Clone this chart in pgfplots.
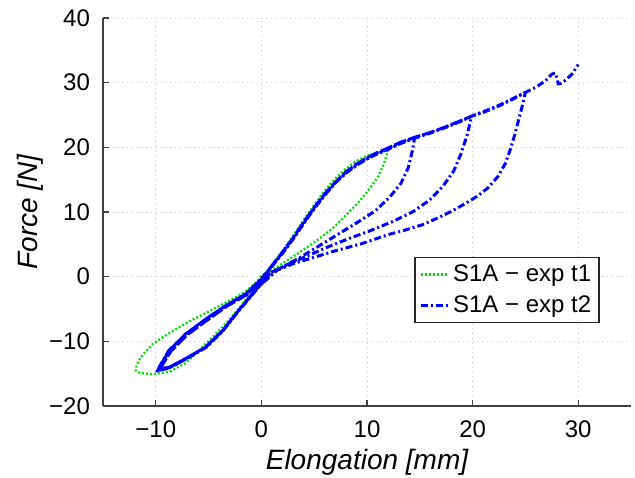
\documentclass[border=0pt]{standalone}
\usepackage{fontspec}
\setmainfont{Liberation Sans}
\usepackage{pgfplots}
\pgfplotsset{compat=1.18}
\definecolor{mgreen}{HTML}{00DD00}
\definecolor{mblue}{HTML}{0000FF}

\begin{document}
\begin{tikzpicture}
\begin{axis}[
    scale only axis, width=264pt, height=194pt,
    xmin=-15, xmax=35, ymin=-20, ymax=40,
    xtick={-10,0,10,20,30}, xticklabels={−10,0,10,20,30},
    ytick={-20,-10,0,10,20,30,40}, yticklabels={−20,−10,0,10,20,30,40},
    axis x line*=bottom, axis y line*=left,
    axis line style={black!75, line width=0.6pt},
    tick style={black!75, line width=0.6pt}, major tick length=3pt,
    grid=major, grid style={dotted, black!22, line width=0.4pt},
    tick label style={font=\fontsize{12}{14}\selectfont},
    yticklabel style={xshift=-3pt},
    xticklabel style={yshift=-4pt},
    xlabel={Elongation [mm]}, ylabel={Force [N]},
    label style={font=\fontsize{14}{16}\selectfont\itshape},
    xlabel style={at={(axis description cs:0.5,-0.144)}, anchor=center},
    ylabel style={at={(axis description cs:-0.138,0.5)}, anchor=center},
    legend style={at={(axis description cs:0.941,0.384)}, anchor=north east,
        draw=black!85, line width=0.7pt, fill=white,
        font=\fontsize{12}{14}\selectfont, inner xsep=2pt, inner ysep=1.5pt,
        row sep=1.5pt, cells={anchor=west}},
    legend image code/.code={\draw[#1] (0pt,0pt) -- (13.5pt,0pt);},
]
% S1A - exp t1
\addplot[mgreen, line width=1.1pt, dash pattern=on 1pt off 1pt, line join=round] coordinates {
 (0,-0.2) (1,1.8) (2,4) (3,6.3) (4,8.8) (5,11.1) (6,13.3) (7,15.2) (8,16.7) (9,17.9) (10,18.7) (11,19.2) (12,19.5)
 (11.6,17.5) (11.1,15.6) (10.2,13.5) (9.2,11.5) (8,9.5) (6.7,7.4) (5.5,5.9) (4.2,4.4) (3,3.1) (1.5,1.5) (0,0.2)
 (-1.5,-3.6) (-3,-6.6) (-4.6,-9.3) (-5.9,-11.4) (-7.2,-13.4) (-8.7,-14.7) (-10.3,-15.1) (-11.5,-14.9) (-11.9,-14.5)
 (-11.8,-13.6) (-11.4,-12.4) (-10.3,-10.4) (-8.7,-8.7) (-6.8,-6.9) (-4.9,-5.3) (-3,-3.7) (-1.5,-2.3) (0,-0.2)
};
\addlegendentry{S1A − exp t1}
% S1A - exp t2
\addplot[mblue, line width=1.5pt, dash pattern=on 3.5pt off 1.5pt on 1pt off 1.5pt, line join=round] coordinates {
 (0,-0.3) (1,1.6) (2,3.6) (3,5.8) (4,8.2) (5,10.5) (6,12.6) (7,14.5) (8,16) (9,17.2) (10,18.2) (11,19) (12,19.7) (13.2,20.6) (14.5,21.4)
 (14.3,19.5) (13.9,16.8) (13.2,14.4) (12.1,12.2) (10.8,10.2) (9.2,8.5) (7.5,6.8) (6.1,5.4) (4.7,4) (3.5,2.8) (2,1.5) (0.5,0.3)
 (-0.3,-1.6) (-2.2,-5.3) (-3.7,-8.4) (-5.3,-10.9) (-7.2,-12.7) (-8.7,-14) (-9.8,-14.5)
 (-8.7,-11.4) (-7.2,-8.9) (-5.3,-6.6) (-3.4,-4.5) (-1.5,-2.7) (0,-0.4)
 (-0.2,-1.4) (-2.1,-5.1) (-3.6,-8.2) (-5.2,-10.8) (-7.1,-12.7) (-8.6,-14) (-9.7,-14.5)
 (-8.6,-11.6) (-7.1,-9.1) (-5.2,-6.8) (-3.3,-4.6) (-1.4,-2.8) (0,-0.5)
 (1,1.7) (2,3.8) (3,6) (4,8.4) (5,10.7) (6,12.8) (7,14.6) (8,16.2) (9,17.4) (10,18.4) (11,19.2) (12,19.9) (13.2,20.8) (14.6,21.6) (16,22.3) (17.5,23.2) (19,24.2) (19.9,24.8)
 (19.5,22) (18.9,19) (18.2,16.3) (17.2,14) (15.9,11.8) (14.3,10) (12.4,8.5) (10.3,7.1) (8.3,5.9) (6.3,4.6) (4.5,3.3) (2.5,1.9) (1,0.7)
 (-0.3,-1.7) (-2.2,-5.4) (-3.7,-8.5) (-5.3,-11) (-7.2,-12.8) (-8.7,-14.1) (-9.9,-14.6)
 (-8.8,-11.5) (-7.2,-9) (-5.3,-6.7) (-3.4,-4.6) (-1.5,-2.8) (0,-0.4)
 (-0.2,-1.5) (-2.1,-5.2) (-3.6,-8.3) (-5.2,-10.9) (-7.1,-12.6) (-8.6,-13.9) (-9.8,-14.4)
 (-8.7,-11.3) (-7.1,-8.8) (-5.2,-6.5) (-3.3,-4.4) (-1.4,-2.6) (0,-0.3)
 (1,1.6) (2,3.6) (3,5.8) (4,8.2) (5,10.5) (6,12.6) (7,14.5) (8,16) (9,17.2) (10,18.2) (11,19) (12,19.7) (13.2,20.6) (14.5,21.4) (16,22.2) (17.5,23.1) (19,24.1) (19.9,24.8) (21,25.4) (22.5,26.4) (24,27.6) (25,28.5)
 (24.8,27) (24.4,24.5) (24,22) (23.6,19.8) (23.1,17.5) (22.4,15.5) (21.5,13.8) (20.5,12.5) (19.3,11.3) (18,10.1) (16.6,9) (15.2,8) (13.6,7.2) (12,6.5) (9.5,5.1) (7,4) (5,3) (3,2) (1.5,1)
 (-0.3,-1.6) (-2.2,-5.3) (-3.7,-8.4) (-5.3,-10.9) (-7.2,-12.7) (-8.7,-14) (-9.8,-14.5)
 (-8.7,-11.4) (-7.2,-8.9) (-5.3,-6.6) (-3.4,-4.5) (-1.5,-2.7) (0,-0.4)
 (-0.2,-1.4) (-2.1,-5.1) (-3.6,-8.2) (-5.2,-10.8) (-7.1,-12.7) (-8.6,-14) (-9.7,-14.5)
 (-8.6,-11.6) (-7.1,-9.1) (-5.2,-6.8) (-3.3,-4.6) (-1.4,-2.8) (0,-0.5)
 (1,1.7) (2,3.8) (3,6) (4,8.4) (5,10.7) (6,12.8) (7,14.6) (8,16.2) (9,17.4) (10,18.4) (11,19.2) (12,19.9) (13.2,20.8) (14.6,21.6) (16,22.3) (17.5,23.2) (19,24.2) (20,24.9) (21,25.5) (22.5,26.5) (24,27.7) (25,28.5)
 (26,29.3) (26.9,30.3) (27.5,31.3) (27.8,31.5) (28,30.7) (28.1,29.8) (28.4,29.9) (28.8,30.4) (29.4,31.3) (30,32.8)
};
\addlegendentry{S1A − exp t2}
\end{axis}
\pgfresetboundingbox
\path ([shift={(-51.5pt,-36pt)}]current axis.south west) rectangle ([shift={(2pt,9pt)}]current axis.north east);
\end{tikzpicture}
\end{document}
